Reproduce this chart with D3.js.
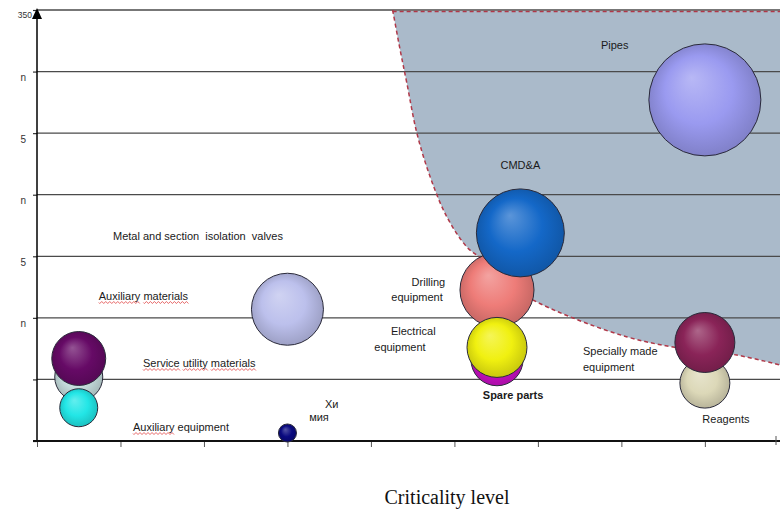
<!DOCTYPE html>
<html><head><meta charset="utf-8">
<script src="https://cdn.jsdelivr.net/npm/d3@7/dist/d3.min.js"></script>
<style>
html,body{margin:0;padding:0;background:#fff;}
svg{display:block;}
</style></head>
<body><svg id="c" width="780" height="510" font-family="Liberation Sans, Arial, sans-serif"></svg>
<script>
// ---------- data ----------
const bubbleNames  = ["Pale utility","Service utility materials","Auxiliary equipment","Auxiliary materials","Хи мия","Spare parts","Drilling equipment","Electrical equipment","CMD&A","Pipes","Reagents","Specially made equipment"];
const bubbleX      = [0.5, 0.5, 0.5, 3.0, 3.0, 5.51, 5.51, 5.51, 5.79, 8.0, 8.0, 8.0];
const bubbleY      = [52, 67, 27, 107, 6.5, 66, 122.6, 76, 169, 277, 47, 80];
const bubbleSize   = [18.4, 23.2, 11.5, 41.3, 2.6, 21.6, 43.7, 28.7, 61.7, 100, 19.9, 28.7];
const bubbleColors = ["#c6dede","#660a66","#22e6e6","#bcc0ec","#0a0a80","#cc10c8","#ee7c78","#f0f010","#1468c8","#9a9af0","#dcd8b8","#8a2458"];

const yTickValues = [350, 300, 250, 200, 150, 100, 50, 0];
const yTickLabels = ["350", "n", "5", "n", "5", "n", "", ""];
const xTickValues = [0, 1, 2, 3, 4, 5, 6, 7, 8];

const zoneX = [4.26, 4.35, 4.43, 4.55, 4.71, 4.91, 5.15, 5.31, 5.60, 5.94, 6.42, 7.07, 7.62, 8.38, 8.9];
const zoneY = [350, 317.5, 290.7, 250.1, 214.4, 181.9, 157.5, 148.6, 128.3, 114.5, 99.9, 84.5, 76.3, 69.8, 61.7];

const labelText   = ["Pipes","CMD&A","Metal and section  isolation  valves","Auxiliary materials","Service utility materials","Auxiliary equipment","Хи","мия","Drilling","equipment","Electrical","equipment","Spare parts","Specially made","equipment","Reagents"];
const labelX      = [6.92, 5.79, 0.91, 0.74, 1.27, 1.15, 3.45, 3.26, 4.89, 4.86, 4.24, 4.04, 5.34, 6.54, 6.54, 7.97];
const labelY      = [318.3, 220.9, 163.2, 114.5, 60.1, 8.1, 26.8, 16.2, 125.9, 113.7, 86.1, 73.1, 34.1, 69.8, 56.8, 14.6];
const labelAnchor = ["middle","middle","start","start","start","start","start","start","end","end","start","start","start","start","start","start"];
const labelBold   = [0,0,0,0,0,0,0,0,0,0,0,0,1,0,0,0];
const labelSquiggle = [0,0,0,1,1,1,0,0,0,0,0,0,0,0,0,0];
const xTitle = "Criticality level";

// ---------- scales ----------
const svg = d3.select("#c");
const x = d3.scaleLinear().domain([0, 8.9]).range([37, 780]);
const y = d3.scaleLinear().domain([0, 350]).range([441, 10]);
const r = d3.scaleSqrt().domain([0, 100]).range([0, 56]);

// ---------- gradients ----------
const defs = svg.append("defs");
bubbleColors.forEach((c, i) => {
  const g = defs.append("radialGradient").attr("id", "g" + i)
    .attr("cx", "50%").attr("cy", "50%").attr("r", "55%")
    .attr("fx", "38%").attr("fy", "30%");
  const base = d3.color(c);
  g.append("stop").attr("offset", "0%").attr("stop-color", d3.interpolateRgb(c, "#fff")(0.3));
  g.append("stop").attr("offset", "55%").attr("stop-color", c);
  g.append("stop").attr("offset", "100%").attr("stop-color", base.darker(0.6));
});

// ---------- critical zone ----------
const zonePts = zoneX.map((v, i) => [x(v), y(zoneY[i])]);
const curve = d3.line().curve(d3.curveCatmullRom.alpha(0.5));
const curvePath = curve(zonePts);
svg.append("path")
  .attr("d", curvePath + `L${x(8.9)+2},${y(350)+1}L${x(zoneX[0])},${y(350)+1}Z`)
  .attr("fill", "#aabaca").attr("stroke", "none");

// ---------- gridlines ----------
svg.append("g").selectAll("line").data(yTickValues.slice(0, 7)).join("line")
  .attr("x1", x(0)).attr("x2", 780)
  .attr("y1", d => y(d)).attr("y2", d => y(d))
  .attr("stroke", "#4a4a4a").attr("stroke-width", 1.3);

// dashed border of zone
svg.append("path").attr("d", curvePath).attr("fill", "none")
  .attr("stroke", "#b03848").attr("stroke-width", 1.5).attr("stroke-dasharray", "4,3");
svg.append("line").attr("x1", x(zoneX[0])).attr("x2", 780)
  .attr("y1", y(350) + 1.5).attr("y2", y(350) + 1.5)
  .attr("stroke", "#b03848").attr("stroke-width", 1.5).attr("stroke-dasharray", "4,3");

// ---------- axes ----------
const yAxis = d3.axisLeft(y).tickValues(yTickValues).tickSize(4)
  .tickFormat((d, i) => yTickLabels[i]);
const ya = svg.append("g").attr("transform", `translate(${x(0)},0)`).call(yAxis);
ya.select(".domain").remove();
ya.selectAll(".tick line").attr("stroke", "#333").attr("stroke-width", 1.2);
ya.selectAll(".tick text")
  .attr("font-family", "Liberation Sans, Arial, sans-serif")
  .attr("font-size", d => d === 350 ? 8.5 : 10)
  .attr("fill", "#333")
  .attr("x", d => d === 350 ? -5 : -11)
  .attr("dy", "0.9em");
svg.append("line").attr("x1", x(0)).attr("x2", x(0)).attr("y1", y(0)).attr("y2", y(350) + 4)
  .attr("stroke", "#000").attr("stroke-width", 1.5);
svg.append("path")
  .attr("d", `M${x(0)},${y(350) - 2}L${x(0) - 5},${y(350) + 9}L${x(0) + 5},${y(350) + 9}Z`)
  .attr("fill", "#000");

const xAxis = d3.axisBottom(x).tickValues(xTickValues).tickSize(6).tickFormat("");
const xa = svg.append("g").attr("transform", `translate(0,${y(0)})`).call(xAxis);
xa.select(".domain").remove();
xa.selectAll(".tick line").attr("stroke", "#555").attr("stroke-width", 1);
svg.append("line").attr("x1", x(0) - 4).attr("x2", 780).attr("y1", y(0)).attr("y2", y(0))
  .attr("stroke", "#111").attr("stroke-width", 2.2);
svg.append("line").attr("x1", 776).attr("x2", 776).attr("y1", y(0) - 5).attr("y2", y(0) + 4)
  .attr("stroke", "#555").attr("stroke-width", 1);

// ---------- bubbles ----------
svg.append("g").selectAll("circle").data(bubbleNames).join("circle")
  .attr("cx", (d, i) => x(bubbleX[i]))
  .attr("cy", (d, i) => y(bubbleY[i]))
  .attr("r", (d, i) => r(bubbleSize[i]))
  .attr("fill", (d, i) => `url(#g${i})`)
  .attr("stroke", "#2a2a3a").attr("stroke-width", 1);

// ---------- labels ----------
const lg = svg.append("g");
labelText.forEach((t, i) => {
  const tx = lg.append("text")
    .attr("x", x(labelX[i])).attr("y", y(labelY[i]))
    .attr("text-anchor", labelAnchor[i])
    .attr("font-size", 11)
    .attr("font-weight", labelBold[i] ? "bold" : "normal")
    .attr("fill", "#1a1a1a")
    .style("white-space", "pre")
    .text(t);
  if (labelSquiggle[i]) {
    const x0 = x(labelX[i]), y0 = y(labelY[i]) + 2.5;
    const words = t.split(" ");
    words.forEach((wd, k) => {
      if (i === 5 && k > 0) return;
      const tmp = lg.append("text").attr("font-size", 11).style("white-space","pre").text(wd);
      const ww = tmp.node().getComputedTextLength();
      tmp.remove();
      const sp = lg.append("text").attr("font-size", 11).style("white-space","pre").text(words.slice(0, k).join(" ") + (k ? " " : ""));
      const start = k ? sp.node().getComputedTextLength() : 0;
      sp.remove();
      let d = `M${x0 + start},${y0}`;
      for (let p = 0; p < ww; p += 2) {
        d += `L${x0 + start + p + 1},${y0 + ((p / 2) % 2 ? -1 : 1)}`;
      }
      lg.append("path").attr("d", d).attr("fill", "none")
        .attr("stroke", "#e04040").attr("stroke-width", 0.8);
    });
  }
});

svg.append("text").attr("x", 447).attr("y", 504).attr("text-anchor", "middle")
  .style("font-family", "'Liberation Serif', 'Times New Roman', serif")
  .attr("font-size", 20).attr("fill", "#111").text(xTitle);
</script></body></html>
